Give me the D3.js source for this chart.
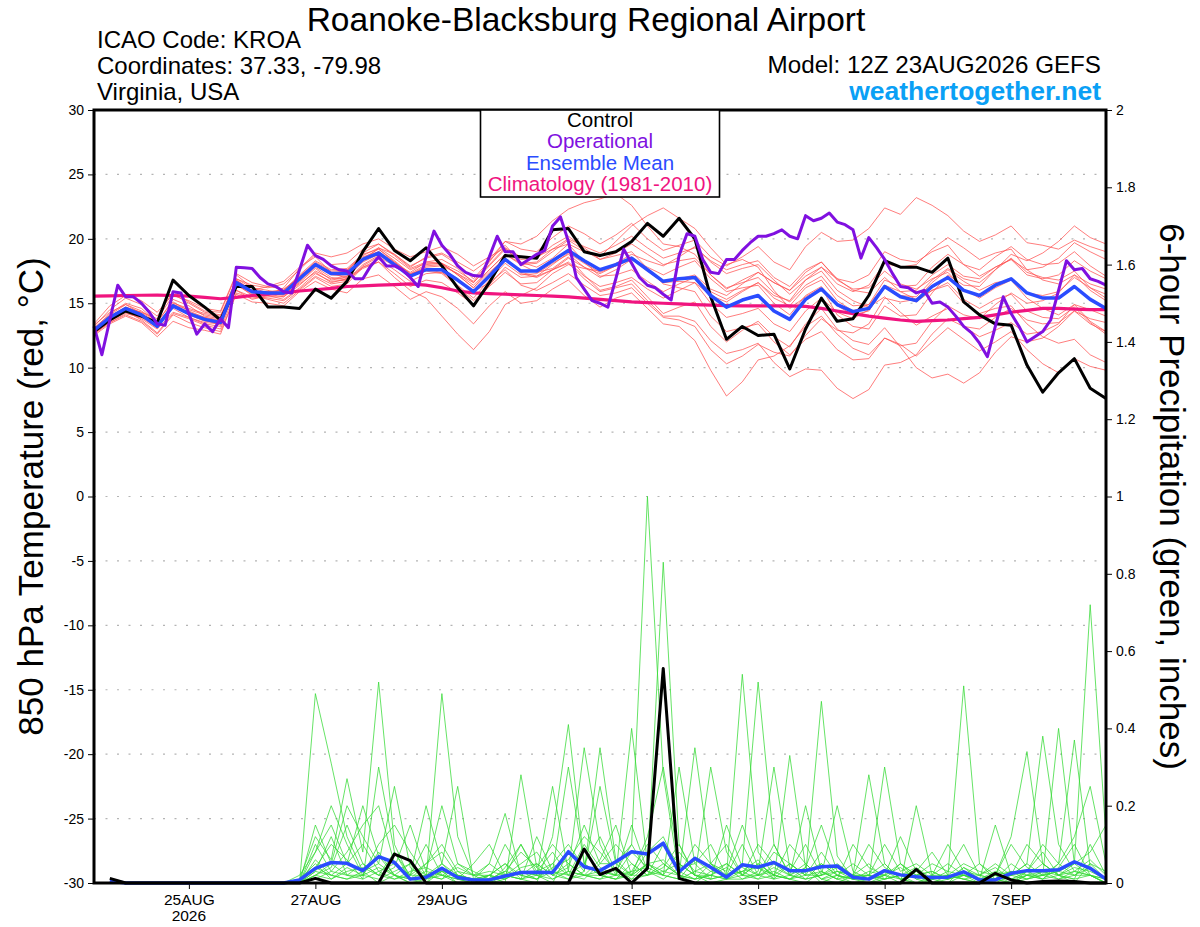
<!DOCTYPE html>
<html>
<head>
<meta charset="utf-8">
<script src="https://cdn.jsdelivr.net/npm/d3@7"></script>
<style>
  body { margin: 0; background: #fff; }
  svg { display: block; font-family: "Liberation Sans", Arial, Helvetica, sans-serif; }
</style>
</head>
<body>
<svg id="chart" width="1200" height="927"></svg>
<script>
const width = 1200;
const height = 927;

// model run start, 6-hourly steps (operational is 3-hourly)
const runStart = Date.UTC(2026, 7, 23, 12);
const HOUR = 3600 * 1000;

const tempTicks = [-30, -25, -20, -15, -10, -5, 0, 5, 10, 15, 20, 25, 30];
const precipTicks = [0, 0.2, 0.4, 0.6, 0.8, 1, 1.2, 1.4, 1.6, 1.8, 2];
const dateTicks = ["2026-08-25", "2026-08-27", "2026-08-29", "2026-09-01", "2026-09-03", "2026-09-05", "2026-09-07"];
const dateLabels = ["25AUG", "27AUG", "29AUG", "1SEP", "3SEP", "5SEP", "7SEP"];
const yearLabel = "2026";

const legendItems = ["Control", "Operational", "Ensemble Mean", "Climatology (1981-2010)"];
const legendColors = ["#000000", "#8010e0", "#2a4cff", "#f0147f"];

// 850 hPa temperature, 6-hourly
const controlTemp = [12.8,13.7,14.4,14.0,13.5,16.8,15.6,14.7,13.7,16.3,
  16.3,14.7,14.7,14.6,16.1,15.4,16.7,19.0,20.8,19.1,
  18.3,19.3,17.9,16.2,14.8,16.6,18.7,18.6,18.5,20.7,
  20.8,19.0,18.7,19.0,19.8,21.2,20.2,21.6,20.0,15.5,
  12.2,13.2,12.5,12.6,9.9,13.0,15.4,13.6,13.8,15.6,
  18.3,17.8,17.8,17.4,18.5,15.1,14.1,13.4,13.3,10.2,
  8.1,9.6,10.7,8.4,7.6];

// operational run, 3-hourly
const operTemp = [13.2,11.0,13.7,16.4,15.5,15.5,15.0,14.3,13.4,13.3,
  15.9,15.8,14.2,12.6,13.4,12.8,13.8,13.1,17.8,17.75,
  17.7,17.0,16.5,16.3,15.9,15.8,17.6,19.5,18.7,18.4,
  17.9,17.6,17.5,16.9,16.9,17.9,18.6,17.9,17.9,17.6,
  17.0,16.3,18.6,20.6,19.5,18.8,17.9,17.4,17.15,17.1,
  18.6,20.2,19.0,19.0,18.0,18.4,18.8,19.1,21.0,21.7,
  19.8,17.0,16.1,15.2,15.0,14.7,16.9,19.2,18.1,17.0,
  16.4,16.2,15.7,15.25,18.7,20.4,20.2,18.4,17.4,17.3,
  18.4,18.4,19.1,19.7,20.2,20.2,20.4,20.7,20.2,20.0,
  21.8,21.4,21.6,22.0,21.3,21.1,20.7,18.5,20.1,19.3,
  18.4,17.3,16.3,16.2,15.8,16.0,15.0,15.1,14.7,14.0,
  13.2,12.7,11.9,10.85,13.2,15.5,14.2,13.2,12.0,12.4,
  12.8,13.7,16.0,18.3,17.6,17.7,16.9,16.7,16.4];

const meanTemp = [12.9,13.9,14.6,14.1,13.2,14.8,14.2,13.75,13.5,16.6,
  15.9,15.8,15.8,16.9,18.0,17.3,17.3,18.4,18.9,18.0,
  17.1,17.6,17.6,16.8,15.9,17.1,18.4,17.5,17.5,18.3,
  19.1,18.3,17.6,18.0,18.5,17.6,16.7,16.9,17.0,15.6,
  14.7,15.25,15.6,14.4,13.75,15.3,16.1,14.9,14.35,14.6,
  16.3,15.5,15.2,16.3,17.0,16.0,15.6,16.4,16.9,15.8,
  15.4,15.4,16.3,15.3,14.6];

const climTemp = [15.55,15.57,15.6,15.62,15.63,15.6,15.55,15.45,15.35,15.45,
  15.6,15.7,15.8,15.95,16.05,16.15,16.3,16.35,16.4,16.45,
  16.5,16.4,16.2,15.95,15.8,15.75,15.7,15.65,15.6,15.55,
  15.5,15.4,15.3,15.2,15.1,15.05,15.0,14.95,14.9,14.85,
  14.82,14.8,14.8,14.8,14.8,14.75,14.6,14.4,14.2,14.0,
  13.85,13.7,13.6,13.65,13.7,13.8,13.9,14.1,14.3,14.45,
  14.6,14.6,14.55,14.5,14.5];

// ensemble members, 6-hourly
const memberTemp = [
  [13.0,14.2,15.0,14.6,13.5,15.3,14.8,14.0, 13.8,16.9,16.4,16.2,16.5,17.6,18.8,18.0, 18.1,19.2,19.6,18.8,17.8,18.6,18.9,18.2,
   17.5,18.4,19.8,19.2,19.0,20.1,21.0,20.4, 19.6,20.3,21.2,20.0,19.1,19.5,19.9,18.6, 17.9,18.6,19.4,18.2,17.6,19.4,20.5,19.8,
   19.9,20.8,22.4,21.9,23.2,22.6,21.8,20.6, 19.8,20.3,21.0,19.7,19.5,19.2,19.9,19.4,19.0],
  [12.7,13.5,14.1,13.6,12.6,14.1,13.5,13.1, 12.8,15.7,15.1,15.0,14.8,15.9,16.7,16.1, 15.8,16.9,17.2,16.3,15.3,15.9,15.5,14.6,
   13.4,14.8,15.9,15.0,15.2,16.1,16.8,15.6, 14.7,15.4,15.8,14.6,13.4,13.2,12.1,9.8, 7.8,8.9,10.6,10.9,11.7,13.2,14.0,12.6,
   11.5,11.0,12.3,11.8,10.9,12.0,13.1,12.2, 11.3,12.0,12.8,11.4,10.3,9.6,10.7,10.1,9.8],
  [13.2,14.5,15.4,14.9,14.0,15.9,15.1,14.4, 14.3,17.2,16.2,16.0,15.7,16.5,17.4,16.6, 16.9,18.3,19.3,18.8,17.9,18.5,18.8,18.0,
   16.9,18.3,19.5,18.2,17.8,18.5,19.6,19.0, 18.6,19.8,21.0,21.8,22.4,21.6,20.8,19.3, 18.0,18.4,17.8,16.0,14.6,15.5,16.2,14.1,
   13.2,13.0,14.8,14.0,14.1,15.8,17.2,16.4, 16.3,17.6,18.8,18.3,18.9,19.8,21.0,20.1,19.6],
  [12.6,13.6,14.3,13.8,13.0,14.3,13.9,13.4, 13.2,16.3,16.0,16.3,16.7,17.8,18.6,17.4, 16.9,17.8,18.2,17.0,16.0,15.4,14.0,12.6,
   11.4,12.8,14.9,15.6,16.2,17.3,18.0,17.7, 17.5,18.1,18.8,18.3,17.9,18.6,19.4,18.2, 17.3,17.7,18.0,16.8,15.7,16.8,17.5,16.0,
   15.2,14.7,15.5,14.3,13.3,14.0,14.6,13.2, 12.4,12.9,13.5,12.6,12.8,13.4,14.9,14.5,14.0],
  [13.4,14.8,15.6,15.2,14.3,15.7,15.0,14.3, 14.1,16.0,15.3,15.6,16.2,17.7,18.9,18.6, 18.9,19.6,20.0,19.2,18.6,19.0,19.4,18.8,
   17.9,18.6,19.3,18.0,17.4,17.7,18.6,17.2, 16.0,16.3,16.8,15.5,14.2,14.7,15.1,13.2, 12.0,12.9,13.6,12.4,11.6,13.4,14.6,13.0,
   12.1,11.8,13.1,11.6,10.0,9.2,9.5,8.8, 9.6,11.2,12.4,12.0,12.3,13.2,14.4,13.8,13.5],
  [12.9,13.8,14.4,14.0,13.3,15.0,14.6,14.2, 14.0,16.9,16.2,15.8,15.6,16.6,17.7,16.8, 17.0,18.5,19.2,18.3,17.3,18.0,18.1,17.5,
   16.7,18.2,19.8,19.6,20.2,21.4,22.3,22.8, 23.1,23.5,22.6,21.0,19.6,19.4,18.8,17.2, 16.1,16.8,17.4,16.6,16.0,17.1,17.8,16.5,
   15.9,16.4,18.1,17.8,18.0,19.2,20.1,19.3, 18.4,18.9,19.2,17.6,16.8,16.5,17.2,16.0,15.2],
  [12.8,13.7,14.4,13.7,12.7,14.2,13.8,13.3, 13.0,16.0,15.5,15.4,15.2,16.1,17.1,16.5, 16.7,17.9,18.6,17.9,17.1,17.6,17.7,16.9,
   15.9,16.6,17.6,16.4,16.0,16.6,17.3,16.4, 15.6,15.8,16.2,15.0,13.9,13.7,13.2,11.4, 10.3,10.9,11.8,11.2,10.9,12.5,13.8,12.9,
   12.7,13.4,15.4,15.1,15.3,16.6,17.6,16.7, 16.0,16.6,16.8,15.4,14.6,14.1,14.9,13.6,12.8],
  [13.1,14.1,14.9,14.4,13.6,15.1,14.4,13.9, 13.7,16.8,16.0,15.6,15.3,16.2,17.3,16.7, 16.8,18.0,18.7,18.1,17.4,18.2,18.4,17.7,
   16.6,17.9,19.2,18.4,18.5,19.5,20.2,19.3, 18.4,18.7,19.0,17.7,16.5,16.2,15.9,14.0, 12.8,13.1,13.4,12.0,11.0,12.2,12.8,11.4,
   10.6,10.7,12.3,11.7,11.9,13.6,14.8,14.1, 13.8,14.9,15.8,15.0,15.2,15.8,17.2,16.5,16.1],
  [12.5,13.4,14.0,13.5,12.4,13.6,13.1,12.9, 12.6,15.8,15.4,15.5,15.5,16.7,17.8,17.0, 16.8,17.7,18.2,17.3,16.3,16.8,16.6,15.8,
   14.9,16.4,17.8,17.0,17.1,18.0,18.9,18.1, 17.4,17.9,18.4,17.5,16.6,16.9,17.2,16.1, 15.6,16.5,17.4,16.6,16.0,17.4,18.2,16.9,
   16.0,15.8,17.0,15.9,15.3,16.0,16.4,15.0, 14.2,14.6,14.8,13.4,12.4,11.9,12.2,11.0,10.4],
  [13.0,14.0,14.6,14.3,13.8,15.6,15.2,14.6, 14.4,17.3,16.6,16.3,16.1,17.0,18.1,17.3, 17.5,18.9,19.6,18.7,17.7,18.2,18.1,17.2,
   16.2,17.4,18.5,17.3,17.0,17.6,18.2,17.1, 16.3,16.6,17.0,16.1,15.4,16.0,16.6,15.6, 15.1,15.9,16.6,15.6,15.2,16.8,17.8,16.9,
   16.6,17.2,19.0,18.4,18.2,19.0,19.5,18.0, 17.1,17.8,18.4,17.6,17.8,18.5,19.7,19.0,18.4],
  [12.8,13.9,14.7,14.3,13.5,14.6,13.9,13.5, 13.4,16.5,15.8,15.7,15.9,17.1,18.2,17.5, 17.6,18.6,19.0,18.0,17.2,17.9,18.0,17.3,
   16.6,18.0,19.3,18.6,18.6,19.2,19.6,18.2, 17.1,17.2,17.6,16.7,15.9,16.5,17.0,15.9, 15.3,16.0,16.6,15.4,14.8,16.2,16.8,15.2,
   14.4,14.9,16.8,16.3,16.4,17.8,18.8,18.0, 17.6,18.6,19.4,18.4,18.0,18.1,19.0,17.9,17.1],
  [13.3,14.3,14.9,14.2,13.1,14.9,14.5,14.1, 13.9,16.8,16.0,15.7,15.5,16.4,17.5,16.9, 17.1,18.4,19.0,18.2,17.3,17.6,17.4,16.4,
   15.4,16.8,18.1,17.2,17.3,18.1,18.8,17.8, 17.0,17.6,18.4,17.8,17.2,17.8,18.3,16.9, 15.9,16.2,16.4,15.0,14.1,15.6,16.3,14.8,
   14.1,14.4,16.2,15.6,15.5,16.8,17.7,16.9, 16.6,17.6,18.5,17.4,17.0,16.8,17.5,16.2,15.4],
  [12.6,13.5,14.2,13.9,13.1,14.7,14.3,13.9, 13.6,16.5,15.6,15.3,15.0,16.0,17.0,16.3, 16.5,17.8,18.4,17.6,16.7,17.3,17.4,16.7,
   15.9,17.3,18.5,17.4,17.1,17.6,18.1,16.9, 15.9,16.2,16.5,15.2,14.0,14.0,13.6,12.1, 11.1,11.4,11.9,10.4,9.3,9.9,9.8,8.4,
   7.6,8.3,10.2,10.4,11.0,12.6,13.8,13.2, 13.0,13.9,14.6,13.7,13.4,13.5,14.4,13.4,12.8],
  [12.9,14.0,14.7,14.2,13.4,14.9,14.3,13.7, 13.3,16.4,15.7,15.7,15.8,17.0,18.1,17.4, 17.5,18.7,19.3,18.5,17.6,18.1,18.1,17.2,
   16.2,17.6,18.8,18.1,18.2,19.2,20.0,19.4, 18.9,19.5,20.2,19.3,18.5,18.9,19.3,18.3, 17.6,18.0,18.3,17.0,16.3,17.6,18.2,16.8,
   16.1,16.2,17.5,16.5,16.1,16.9,17.4,16.1, 15.4,16.2,16.8,15.8,15.6,15.9,17.0,16.2,15.7],
  [12.7,13.7,14.4,14.0,13.2,14.8,14.1,13.6, 13.5,16.6,15.9,15.9,16.0,17.2,18.3,17.6, 17.7,18.8,19.2,18.2,17.2,17.5,17.3,16.3,
   15.2,16.3,17.4,16.5,16.6,17.6,18.5,17.8, 17.3,17.9,18.6,17.6,16.6,16.7,16.6,15.0, 13.9,14.2,14.6,13.4,12.8,14.4,15.4,14.3,
   13.8,14.5,16.4,15.9,16.0,17.2,18.0,17.1, 16.9,17.8,18.4,17.2,16.9,17.2,18.3,17.5,16.9],
  [13.0,13.9,14.5,14.1,13.3,14.8,14.2,13.8, 13.5,16.5,15.9,15.9,16.0,17.1,18.0,17.2, 17.1,18.2,18.8,18.0,17.2,17.8,17.9,17.3,
   16.4,17.6,18.8,18.0,18.1,19.0,19.9,19.1, 18.4,18.9,19.6,18.8,18.0,18.3,18.5,17.2, 16.2,16.6,17.0,15.8,15.1,16.4,17.1,15.6,
   14.8,14.9,16.4,15.5,15.1,16.0,16.6,15.3, 14.6,15.3,15.7,14.4,13.9,13.8,14.7,13.5,12.6]
];

// 6-hour precipitation (inches); no value at the analysis time
const controlPrecip = [null,0.012,0,0,0,0,0,0,0,0,
  0,0,0,0,0.012,0,0,0,0,0.075,
  0.058,0,0,0,0,0,0,0,0,0,
  0,0.088,0.022,0.038,0,0.038,0.555,0.012,0,0,
  0,0,0,0,0,0,0,0,0,0,
  0,0,0.035,0,0,0,0,0.025,0.008,0,
  0.004,0.005,0.004,0,0];

const meanPrecip = [null,0.005,0,0,0,0,0,0,0,0,
  0,0,0,0.008,0.038,0.053,0.051,0.032,0.068,0.053,
  0.01,0.015,0.038,0.014,0.008,0.008,0.018,0.027,0.028,0.027,
  0.081,0.042,0.032,0.055,0.081,0.075,0.103,0.029,0.064,0.041,
  0.015,0.047,0.041,0.053,0.032,0.032,0.042,0.044,0.015,0.01,
  0.032,0.021,0.016,0.014,0.015,0.029,0.008,0.008,0.025,0.032,
  0.032,0.034,0.055,0.038,0.01];

const memberPrecip = [
  [null,0,0,0,0,0,0,0,0, 0,0,0,0,0,0.49,0.31,0.12, 0.03,0,0.02,0,0,0.05,0.01,0, 0,0.04,0.1,0.02,0,0.08,0.03,0.35,
   0.06,0.02,0.08,0.12,0.03,0.01,0.05,0.02, 0.54,0.08,0.02,0.01,0,0.03,0.01,0, 0,0.02,0.05,0.01,0,0,0.04,0.01, 0,0,0.03,0.08,0.02,0,0.05,0.01],
  [null,0,0,0,0,0,0,0,0, 0,0,0,0,0.01,0.12,0.06,0.27, 0.08,0.52,0.1,0.01,0,0.03,0,0, 0.02,0.05,0.01,0,0.12,0.41,0.05,0.02,
   0.01,0.03,0.04,0.83,0.1,0.02,0,0.01, 0.03,0.06,0.01,0.33,0.04,0,0.02,0.01, 0.02,0,0,0.03,0.01,0.02,0.51,0.05, 0.01,0,0.02,0.01,0.04,0.1,0.02,0],
  [null,0,0,0,0,0,0,0,0, 0,0,0,0,0.02,0.08,0.15,0.05, 0.2,0.07,0.02,0,0.01,0.49,0.12,0.02, 0,0.01,0.03,0.01,0.04,0.06,0.12,0.08,
   0.03,0.1,1.0,0.28,0.02,0,0.03,0.05, 0.02,0.02,0.08,0.05,0.02,0.47,0.07,0.01, 0,0.01,0.02,0,0,0.02,0.01,0, 0,0.02,0.05,0.02,0.01,0.03,0.06,0.02],
  [null,0,0,0,0,0,0,0,0, 0,0,0,0,0,0.04,0.1,0.06, 0.01,0.3,0.08,0.02,0.2,0.05,0.25,0.01, 0.02,0,0.28,0.04,0.01,0.03,0.02,0.06,
   0.15,0.02,0.05,0.02,0.3,0.05,0.01,0.02, 0.05,0.52,0.1,0.02,0.04,0.01,0,0.02, 0.28,0.05,0.01,0,0.01,0,0.02,0.01, 0.02,0,0.01,0.03,0.02,0.05,0.72,0.12],
  [null,0,0,0,0,0,0,0,0, 0,0,0,0,0,0.02,0.05,0.2, 0.12,0.05,0.25,0.04,0.01,0.02,0,0, 0.01,0.1,0.03,0.02,0.25,0.03,0.35,0.1,
   0.02,0.4,0.05,0.06,0.02,0.35,0.05,0.01, 0.01,0.03,0.3,0.04,0.01,0.05,0.02,0, 0.01,0.3,0.05,0.02,0,0.01,0.03,0.02, 0.01,0,0.02,0.01,0.05,0.37,0.04,0.01],
  [null,0,0,0,0,0,0,0,0, 0,0,0,0,0,0.15,0.05,0.02, 0.05,0.02,0.04,0.15,0.03,0.02,0.01,0.05, 0.1,0.02,0.01,0.12,0.03,0.3,0.05,0.02,
   0.01,0.05,0.02,0.1,0.05,0.02,0.3,0.08, 0.02,0.1,0.05,0.02,0.2,0.03,0.01,0.1, 0.04,0.02,0.12,0.03,0.08,0.02,0.01,0, 0.02,0.12,0.34,0.05,0.02,0.03,0.02,0],
  [null,0,0,0,0,0,0,0,0, 0,0,0,0,0,0.08,0.2,0.1, 0.02,0.08,0.02,0.01,0.05,0.1,0.03,0, 0,0.02,0.05,0.08,0.02,0.01,0.03,0.25,
   0.05,0.02,0.12,0.3,0.05,0.02,0.01,0.15, 0.04,0.02,0.01,0.05,0.02,0.02,0.2,0.03, 0.01,0.02,0,0.2,0.02,0.1,0.03,0.01, 0.15,0.02,0.05,0.38,0.1,0.03,0.02,0],
  [null,0,0,0,0,0,0,0,0, 0,0,0,0,0,0.1,0.03,0.08, 0.15,0.2,0.05,0.02,0.02,0.01,0.03,0.02, 0.05,0.18,0.02,0.01,0.05,0.1,0.04,0.03,
   0.02,0.08,0.04,0.02,0.01,0.06,0.03,0.02, 0.1,0.02,0.03,0.01,0.04,0.15,0.03,0.02, 0.05,0.01,0.02,0.04,0.01,0.03,0.1,0.02, 0.01,0.05,0.02,0.02,0.4,0.05,0.08,0.15],
  [null,0,0,0,0,0,0,0,0, 0,0,0,0,0.01,0.05,0.01,0.04, 0.02,0.1,0.15,0.08,0.02,0.05,0.02,0.01, 0.01,0.03,0.08,0.04,0.1,0.05,0.02,0.01,
   0.04,0.01,0.02,0.04,0.1,0.02,0.02,0.05, 0.02,0.05,0.02,0.1,0.05,0.01,0.02,0.01, 0.02,0.05,0.01,0,0.02,0.05,0.02,0.01, 0.03,0.02,0.01,0.02,0.05,0.12,0.25,0.05],
  [null,0,0,0,0,0,0,0,0, 0,0,0,0,0,0.03,0.12,0.02, 0.01,0.03,0.05,0.02,0.1,0.02,0.04,0.02, 0.02,0.01,0.04,0.05,0.02,0.04,0.15,0.05,
   0.1,0.05,0.02,0.05,0.02,0.1,0.05,0.03, 0.15,0.04,0.02,0.05,0.02,0.08,0.02,0.05, 0.02,0.1,0.03,0.05,0.02,0.01,0.04,0.02, 0.05,0.02,0.1,0.05,0.02,0.01,0.1,0.02],
  [null,0,0,0,0,0,0,0,0, 0,0,0,0,0,0.02,0.04,0.15, 0.05,0.02,0.08,0.01,0.03,0.2,0.05,0.02, 0.03,0.02,0.01,0.03,0.05,0.02,0.1,0.04,
   0.02,0.15,0.03,0.01,0.04,0.05,0.1,0.02, 0.03,0.01,0.05,0.03,0.1,0.02,0.05,0.02, 0.1,0.04,0.02,0.02,0.05,0.03,0.02,0.05, 0.02,0.1,0.04,0.02,0.03,0.02,0.05,0.03],
  [null,0,0,0,0,0,0,0,0, 0,0,0,0,0,0.06,0.02,0.01, 0.03,0.05,0.02,0.05,0.01,0.03,0.02,0.01, 0.02,0.05,0.02,0.01,0.03,0.02,0.05,0.12,
   0.03,0.02,0.05,0.02,0.08,0.03,0.02,0.01, 0.05,0.02,0.1,0.02,0.01,0.02,0.04,0.02, 0.02,0.01,0.05,0.02,0.03,0.01,0.02,0, 0.01,0.03,0.02,0.05,0.02,0.04,0.03,0.01],
  [null,0,0,0,0,0,0,0,0, 0,0,0,0,0,0.04,0.02,0.05, 0.1,0.03,0.01,0.02,0.05,0.08,0.02,0.01, 0.05,0.02,0.1,0.03,0.08,0.02,0.01,0.05,
   0.05,0.1,0.03,0.02,0.01,0.03,0.05,0.1, 0.02,0.05,0.02,0.01,0.03,0.05,0.02,0.01, 0.03,0.02,0.04,0.01,0.02,0.02,0.01,0.02, 0.04,0.01,0.03,0.1,0.05,0.02,0.02,0],
  [null,0,0,0,0,0,0,0,0, 0,0,0,0,0,0.01,0.03,0.02, 0.02,0.01,0.03,0.05,0.02,0.01,0.05,0.03, 0.01,0.03,0.02,0.05,0.02,0.05,0.02,0.03,
   0.02,0.03,0.1,0.05,0.02,0.01,0.02,0.04, 0.01,0.02,0.04,0.02,0.05,0.01,0.03,0.01, 0.01,0.03,0.01,0.02,0.01,0.02,0.05,0.03, 0.02,0.03,0.01,0.02,0.03,0.05,0.02,0.01],
  [null,0,0,0,0,0,0,0,0, 0,0,0,0,0,0.02,0.01,0.03, 0.04,0.02,0.01,0.03,0.04,0.02,0.01,0, 0.02,0.01,0.03,0.02,0.01,0.03,0.02,0.01,
   0.02,0.01,0.05,0.03,0.05,0.02,0.01,0.02, 0.03,0.04,0.01,0.02,0.01,0.02,0.03,0.02, 0.02,0.01,0.02,0.03,0.01,0.02,0.02,0.01, 0.02,0.01,0.02,0.03,0.01,0.02,0.04,0.01],
  [null,0,0,0,0,0,0,0,0, 0,0,0,0,0,0.03,0.02,0.01, 0.02,0.04,0.02,0.01,0.02,0.03,0.02,0.01, 0.01,0.02,0.01,0.02,0.03,0.01,0.02,0.02,
   0.01,0.02,0.02,0.03,0.02,0.01,0.02,0.01, 0.02,0.01,0.02,0.01,0.02,0.03,0.01,0.02, 0.01,0.02,0.01,0.02,0.03,0.01,0.02,0.01, 0.01,0.02,0.03,0.01,0.02,0.01,0.02,0.01]
];

const plot = { left: 94, right: 1106, top: 110, bottom: 883 };
const FONT = '"Liberation Sans", Arial, sans-serif';

const svg = d3.select('#chart');
svg.append('rect').attr('width', width).attr('height', height).attr('fill', '#fff');

const x = d3.scaleUtc()
  .domain([new Date(runStart), new Date(runStart + 64 * 6 * HOUR)])
  .range([plot.left, plot.right]);
const yT = d3.scaleLinear().domain([-30, 30]).range([plot.bottom, plot.top]);
const yP = d3.scaleLinear().domain([0, 2]).range([plot.bottom, plot.top]);

const t6 = i => new Date(runStart + i * 6 * HOUR);
const t3 = j => new Date(runStart + j * 3 * HOUR);

const lineT6 = d3.line().x((d, i) => x(t6(i))).y(d => yT(d));
const lineT3 = d3.line().x((d, i) => x(t3(i))).y(d => yT(d));
const lineP6 = d3.line().defined(d => d !== null).x((d, i) => x(t6(i))).y(d => yP(d));

// dotted grid
svg.append('g')
  .selectAll('line')
  .data(tempTicks.filter(v => v > -30 && v < 30))
  .join('line')
  .attr('x1', plot.left).attr('x2', plot.right)
  .attr('y1', d => yT(d)).attr('y2', d => yT(d))
  .attr('stroke', '#b4b4b4')
  .attr('stroke-width', 1.2)
  .attr('stroke-dasharray', '2,9.5');

// left axis
const leftAxis = d3.axisLeft(yT).tickValues(tempTicks).tickSize(6).tickPadding(4).tickFormat(d => String(d));
const gl = svg.append('g').attr('transform', `translate(${plot.left},0)`).call(leftAxis);
gl.select('.domain').remove();
gl.selectAll('text').attr('font-size', 14).attr('font-family', FONT).attr('fill', '#000');

// right axis
const rightAxis = d3.axisRight(yP).tickValues(precipTicks).tickSize(6).tickPadding(4).tickFormat(d => String(d));
const gr = svg.append('g').attr('transform', `translate(${plot.right},0)`).call(rightAxis);
gr.select('.domain').remove();
gr.selectAll('text').attr('font-size', 14).attr('font-family', FONT).attr('fill', '#000');

// bottom axis
const tickDates = dateTicks.map(s => new Date(s + 'T00:00:00Z'));
const bottomAxis = d3.axisBottom(x).tickValues(tickDates).tickSize(6).tickPadding(5)
  .tickFormat((d, i) => dateLabels[i]);
const gb = svg.append('g').attr('transform', `translate(0,${plot.bottom})`).call(bottomAxis);
gb.select('.domain').remove();
gb.selectAll('text').attr('font-size', 15.5).attr('font-family', FONT).attr('fill', '#000');
gb.append('text')
  .attr('x', x(tickDates[0])).attr('y', 38)
  .attr('text-anchor', 'middle').attr('font-size', 15.5).attr('font-family', FONT).attr('fill', '#000')
  .text(yearLabel);

// series
const series = svg.append('g');

series.append('g').selectAll('path')
  .data(memberTemp)
  .join('path')
  .attr('d', lineT6)
  .attr('fill', 'none')
  .attr('stroke', '#ff5252')
  .attr('stroke-width', 0.75);

series.append('g').selectAll('path')
  .data(memberPrecip)
  .join('path')
  .attr('d', lineP6)
  .attr('fill', 'none')
  .attr('stroke', '#33d933')
  .attr('stroke-width', 0.75);

series.append('path').datum(climTemp).attr('d', lineT6)
  .attr('fill', 'none').attr('stroke', legendColors[3]).attr('stroke-width', 3.2);

series.append('path').datum(controlTemp).attr('d', lineT6)
  .attr('fill', 'none').attr('stroke', legendColors[0]).attr('stroke-width', 3).attr('stroke-linejoin', 'round');

series.append('path').datum(meanPrecip).attr('d', lineP6)
  .attr('fill', 'none').attr('stroke', legendColors[2]).attr('stroke-width', 3.5).attr('stroke-linejoin', 'round');
series.append('path').datum(controlPrecip).attr('d', lineP6)
  .attr('fill', 'none').attr('stroke', legendColors[0]).attr('stroke-width', 3).attr('stroke-linejoin', 'round');
series.append('path').datum(meanTemp).attr('d', lineT6)
  .attr('fill', 'none').attr('stroke', legendColors[2]).attr('stroke-width', 3.5).attr('stroke-linejoin', 'round');

series.append('path').datum(operTemp).attr('d', lineT3)
  .attr('fill', 'none').attr('stroke', legendColors[1]).attr('stroke-width', 3).attr('stroke-linejoin', 'round');

// frame
svg.append('rect')
  .attr('x', plot.left).attr('y', plot.top)
  .attr('width', plot.right - plot.left).attr('height', plot.bottom - plot.top)
  .attr('fill', 'none').attr('stroke', '#000').attr('stroke-width', 3);

// legend box
const lg = svg.append('g');
lg.append('rect')
  .attr('x', 480.5).attr('y', 110).attr('width', 239).attr('height', 87)
  .attr('fill', '#fff').attr('stroke', '#000').attr('stroke-width', 1.6);
lg.selectAll('text')
  .data(legendItems)
  .join('text')
  .attr('x', 600).attr('y', (d, i) => 127 + i * 21.3)
  .attr('text-anchor', 'middle')
  .attr('font-size', 20.5)
  .attr('fill', (d, i) => legendColors[i])
  .text(d => d);

// header
svg.append('text').attr('x', 586).attr('y', 31).attr('text-anchor', 'middle')
  .attr('font-size', 33.5).attr('fill', '#000')
  .text('Roanoke-Blacksburg Regional Airport');

const headerLeft = ['ICAO Code: KROA', 'Coordinates: 37.33, -79.98', 'Virginia, USA'];
svg.append('g').selectAll('text')
  .data(headerLeft)
  .join('text')
  .attr('x', 97).attr('y', (d, i) => 48 + i * 26)
  .attr('font-size', 24).attr('fill', '#000')
  .text(d => d);

svg.append('text').attr('x', 1101).attr('y', 73).attr('text-anchor', 'end')
  .attr('font-size', 24.2).attr('fill', '#000')
  .text('Model: 12Z 23AUG2026 GEFS');
svg.append('text').attr('x', 1101).attr('y', 100).attr('text-anchor', 'end')
  .attr('font-size', 26.5).attr('font-weight', 'bold').attr('fill', '#0aa0f5')
  .text('weathertogether.net');

// axis titles
svg.append('text')
  .attr('transform', `translate(43,${(plot.top + plot.bottom) / 2}) rotate(-90)`)
  .attr('text-anchor', 'middle').attr('font-size', 35).attr('fill', '#000')
  .text('850 hPa Temperature (red, °C)');
svg.append('text')
  .attr('transform', `translate(1160,${(plot.top + plot.bottom) / 2}) rotate(90)`)
  .attr('text-anchor', 'middle').attr('font-size', 35).attr('fill', '#000')
  .text('6-hour Precipitation (green, inches)');
</script>
</body>
</html>
